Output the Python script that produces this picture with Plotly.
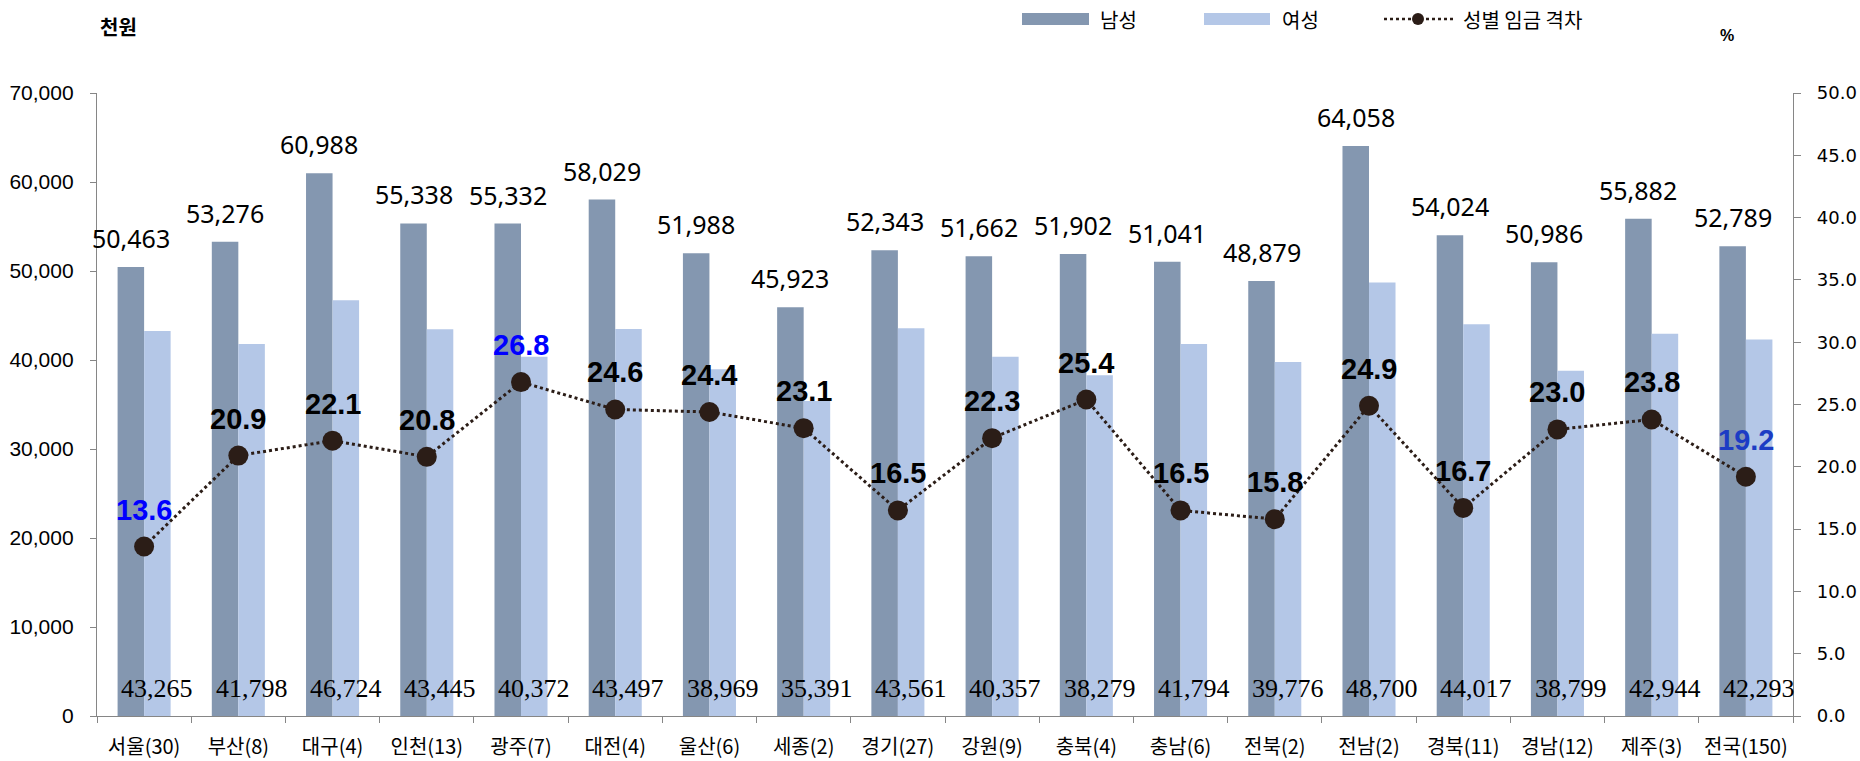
import plotly.graph_objects as go

# Regions (number of institutions in parentheses)
regions = ["서울(30)", "부산(8)", "대구(4)", "인천(13)", "광주(7)", "대전(4)",
           "울산(6)", "세종(2)", "경기(27)", "강원(9)", "충북(4)", "충남(6)",
           "전북(2)", "전남(2)", "경북(11)", "경남(12)", "제주(3)", "전국(150)"]

# Average annual wage, thousand won
male = [50463, 53276, 60988, 55338, 55332, 58029, 51988, 45923, 52343,
        51662, 51902, 51041, 48879, 64058, 54024, 50986, 55882, 52789]
female = [43265, 41798, 46724, 43445, 40372, 43497, 38969, 35391, 43561,
          40357, 38279, 41794, 39776, 48700, 44017, 38799, 42944, 42293]

# Gender wage gap, %
gap = [13.6, 20.9, 22.1, 20.8, 26.8, 24.6, 24.4, 23.1, 16.5,
       22.3, 25.4, 16.5, 15.8, 24.9, 16.7, 23.0, 23.8, 19.2]
gap_label_colors = ["#0000FF", "black", "black", "black", "#0000FF", "black",
                    "black", "black", "black", "black", "black", "black",
                    "black", "black", "black", "black", "black", "#1C3CC4"]

MALE_COLOR = "#8497B0"
FEMALE_COLOR = "#B4C7E7"
GAP_COLOR = "#2B1D17"
AXIS_COLOR = "#868686"

W, H = 1860, 761
L, R, T, B = 97, 1793, 93, 716  # plot area box in pixels


def px_x(px):
    return (px - L) / (R - L)


def px_y(py):
    return (B - py) / (B - T)


BAR_HALF = 0.5 * (1 - 0.437) / 2 * (R - L) / len(regions)  # centre offset of each bar

fig = go.Figure()
fig.add_bar(x=regions, y=male, name="남성", marker=dict(color=MALE_COLOR, line_width=0),
            offsetgroup="m", showlegend=False)
fig.add_bar(x=regions, y=female, name="여성", marker=dict(color=FEMALE_COLOR, line_width=0),
            offsetgroup="f", showlegend=False)
fig.add_scatter(x=regions, y=gap, yaxis="y2", name="성별 임금 격차", mode="lines+markers",
                line=dict(color=GAP_COLOR, dash="dot", width=3),
                marker=dict(size=20, color=GAP_COLOR), showlegend=False)

annotations = []
for r, m in zip(regions, male):
    annotations.append(dict(x=r, y=m, xref="x", yref="y", text=f"{m:,}", showarrow=False,
                            xshift=-BAR_HALF, yshift=10, yanchor="bottom", xanchor="center",
                            font=dict(family="Noto Sans", size=25, color="black")))
for r, f in zip(regions, female):
    annotations.append(dict(x=r, y=0, xref="x", yref="y", text=f"{f:,}", showarrow=False,
                            xshift=BAR_HALF, yshift=11, yanchor="bottom", xanchor="center",
                            font=dict(family="Liberation Serif", size=26, color="black")))
for r, g, c in zip(regions, gap, gap_label_colors):
    annotations.append(dict(x=r, y=g, xref="x", yref="y2", text=f"<b>{g:.1f}</b>",
                            showarrow=False, yshift=37, yanchor="middle", xanchor="center",
                            font=dict(family="Liberation Sans", size=29, color=c)))

# unit labels
annotations.append(dict(x=px_x(118), y=px_y(26), xref="paper", yref="paper", text="<b>천원</b>",
                        showarrow=False, xanchor="center", yanchor="middle",
                        font=dict(family="Noto Sans CJK KR", size=20, color="black")))
annotations.append(dict(x=px_x(1727), y=px_y(36), xref="paper", yref="paper", text="<b>%</b>",
                        showarrow=False, xanchor="center", yanchor="middle",
                        font=dict(family="Liberation Sans", size=16, color="black")))

# legend
LEG_Y = 19
legend_font = dict(family="Noto Sans CJK KR", size=20, color="black")
shapes = [
    dict(type="rect", xref="paper", yref="paper", x0=px_x(1022), x1=px_x(1089),
         y0=px_y(LEG_Y - 6), y1=px_y(LEG_Y + 6), fillcolor=MALE_COLOR, line_width=0),
    dict(type="rect", xref="paper", yref="paper", x0=px_x(1204), x1=px_x(1270),
         y0=px_y(LEG_Y - 6), y1=px_y(LEG_Y + 6), fillcolor=FEMALE_COLOR, line_width=0),
    dict(type="line", xref="paper", yref="paper", x0=px_x(1384), x1=px_x(1453),
         y0=px_y(LEG_Y), y1=px_y(LEG_Y), line=dict(color=GAP_COLOR, dash="dot", width=2.5)),
    dict(type="circle", xref="paper", yref="paper", xsizemode="pixel", ysizemode="pixel",
         xanchor=px_x(1418), yanchor=px_y(LEG_Y), x0=-6, x1=6, y0=-6, y1=6,
         fillcolor=GAP_COLOR, line_width=0),
]
for label, cx in [("남성", 1118), ("여성", 1300), ("성별 임금 격차", 1522)]:
    annotations.append(dict(x=px_x(cx), y=px_y(LEG_Y), xref="paper", yref="paper", text=label,
                            showarrow=False, xanchor="center", yanchor="middle",
                            font=legend_font))

fig.update_layout(
    width=W, height=H, autosize=False,
    margin=dict(l=L, r=W - R, t=T, b=H - B, pad=0, autoexpand=False),
    paper_bgcolor="white", plot_bgcolor="white",
    barmode="group", bargap=0.437, bargroupgap=0,
    showlegend=False,
    annotations=annotations, shapes=shapes,
    xaxis=dict(type="category", range=[-0.5, len(regions) - 0.5],
               showline=True, linecolor=AXIS_COLOR, linewidth=1.3,
               ticks="outside", tickson="boundaries", ticklen=6, tickcolor=AXIS_COLOR,
               tickangle=0, automargin=False,
               tickfont=dict(family="Noto Sans CJK KR", size=20, color="black"),
               ticklabelstandoff=13, showgrid=False, zeroline=False),
    yaxis=dict(range=[0, 70000], tickvals=list(range(0, 70001, 10000)), tickformat=",",
               showline=True, linecolor=AXIS_COLOR, linewidth=1.3, ticks="outside",
               ticklen=6, tickcolor=AXIS_COLOR, showgrid=False, zeroline=False,
               automargin=False,
               tickfont=dict(family="Liberation Sans", size=21, color="black"),
               ticklabelstandoff=12),
    yaxis2=dict(range=[0, 50], tickvals=[i * 5 for i in range(11)], tickformat=".1f",
                overlaying="y", side="right", showline=True, linecolor=AXIS_COLOR,
                linewidth=1.3, ticks="outside", ticklen=7, tickcolor=AXIS_COLOR,
                showgrid=False, zeroline=False, automargin=False,
                tickfont=dict(family="DejaVu Sans", size=18, color="black"),
                ticklabelstandoff=12),
)

fig.write_html("out.html")
